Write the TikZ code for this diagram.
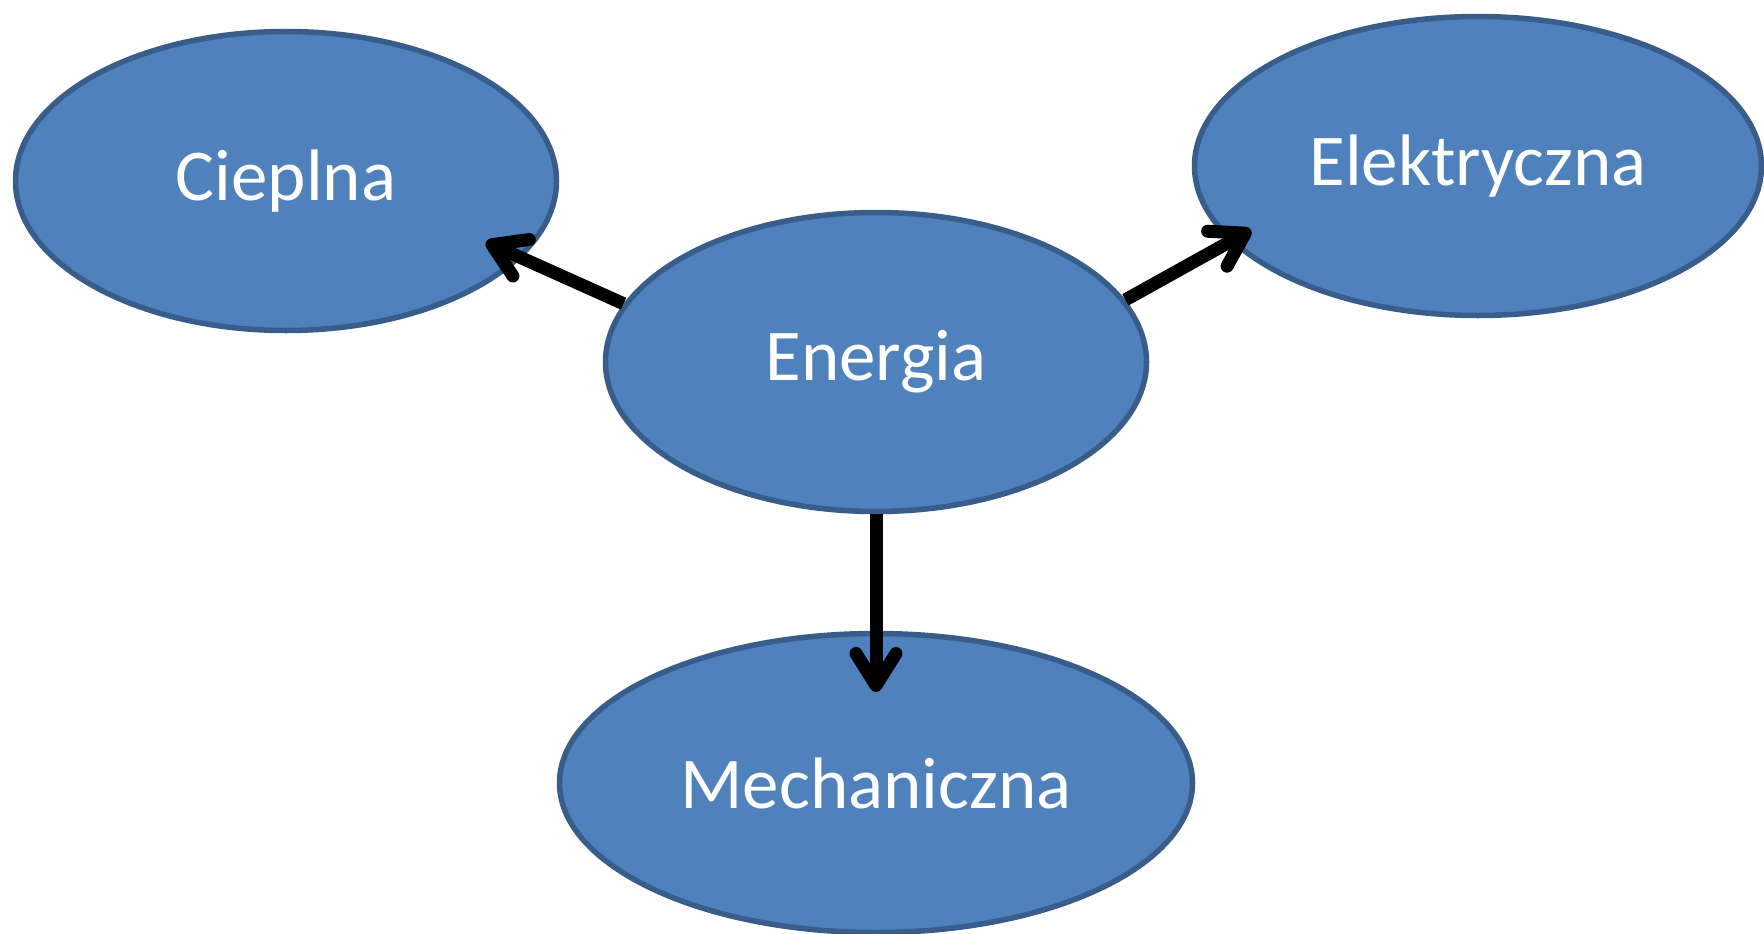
\documentclass[tikz,border=0pt]{standalone}
\usepackage{fontspec}
\setmainfont{Carlito}
\usetikzlibrary{shapes.geometric,arrows.meta,calc}
\definecolor{bubblefill}{HTML}{4F81BD}
\definecolor{bubbleedge}{HTML}{385D8A}
\tikzset{
  bubble/.style={ellipse, draw=bubbleedge, fill=bubblefill, line width=5.5pt,
    inner sep=0pt, text=white, font=\fontsize{73}{80}\selectfont},
  flow/.style={line width=13pt, -{Straight Barb[length=32pt,width=40pt,round]}}
}
\begin{document}
\begin{tikzpicture}[x=1pt,y=-1pt]
\useasboundingbox (0,0) rectangle (1764,934);
% energy forms
\node[bubble, minimum width=541pt, minimum height=299pt] (C) at (286,181) {Cieplna};
\node[bubble, minimum width=567pt, minimum height=299pt] (L) at (1478,166) {Elektryczna};
\node[bubble, minimum width=541pt, minimum height=299pt] (E) at (876,362) {Energia};
\node[bubble, minimum width=633pt, minimum height=299pt] (M) at (876,783) {Mechaniczna};
% arrow tips reach into the target ellipses
\coordinate (cTip) at ($(C.center)+(200,61)$);
\coordinate (lTip) at ($(L.center)+(-227,64)$);
\coordinate (mTip) at ($(M.center)+(0,-91)$);
\draw[flow] (E.167) -- (cTip);
\draw[flow] (E.14) -- (lTip);
\draw[flow] (E.south) -- (mTip);
\end{tikzpicture}
\end{document}
